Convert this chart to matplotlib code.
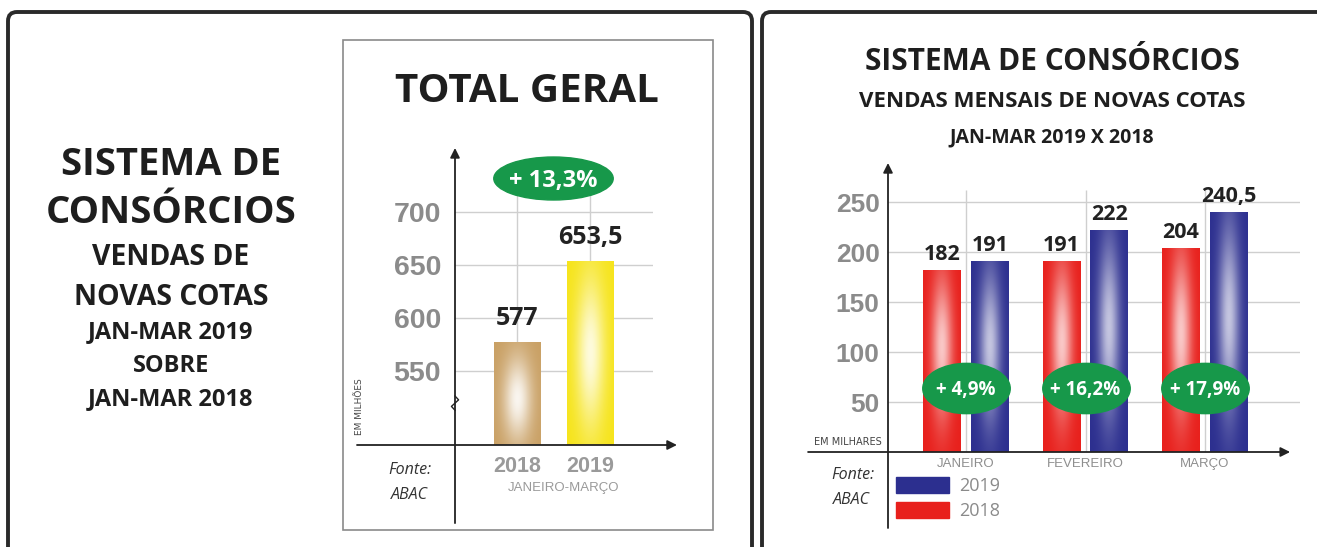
import numpy as np
import matplotlib.pyplot as plt
from matplotlib.patches import FancyBboxPatch, Rectangle, Patch
from matplotlib.path import Path
from matplotlib.colors import to_rgb

# dados - total geral (jan-mar)
anos_total = ['2018', '2019']
vendas_total = [577, 653.5]
variacao_total = '+ 13,3%'

# dados - vendas mensais
meses = ['JANEIRO', 'FEVEREIRO', 'MARÇO']
vendas_2018 = [182, 191, 204]
vendas_2019 = [191, 222, 240.5]
variacoes = ['+ 4,9%', '+ 16,2%', '+ 17,9%']

yticks_total = [550, 600, 650, 700]
yticks_mensal = [50, 100, 150, 200, 250]

plt.rcParams['font.family'] = ['Open Sans', 'DejaVu Sans']

W, H = 1317, 547
fig = plt.figure(figsize=(W / 100, H / 100), dpi=100)

verde = '#17984a'
cinza_tick = '#8b8b8b'
cinza_grade = '#cfcfcf'
texto_escuro = '#1e1e1e'


def fmt(v):
    return f"{v:g}".replace('.', ',')


def eixos_px(x0, y0, x1, y1):
    ax = fig.add_axes([x0 / W, 1 - y1 / H, (x1 - x0) / W, (y1 - y0) / H])
    ax.patch.set_alpha(0)
    for s in ax.spines.values():
        s.set_visible(False)
    return ax


def preencher_gradiente(ax, barras, cor, piso, yc=0.5, forca=0.8, sx=0.6, sy=0.4):
    base = np.array(to_rgb(cor))
    xs = np.linspace(-1, 1, 60)
    ys = np.linspace(0, 1, 150)
    X, Y = np.meshgrid(xs, ys)
    brilho = forca * np.exp(-(X / sx) ** 2) * np.exp(-((Y - yc) / sy) ** 2)
    img = base * (1 - brilho[..., None]) + brilho[..., None]
    for b in barras:
        x0 = b.get_x()
        w = b.get_width()
        topo = b.get_y() + b.get_height()
        im = ax.imshow(img, extent=[x0, x0 + w, piso, topo], origin='lower',
                       aspect='auto', zorder=2, interpolation='bilinear')
        im.set_clip_path(b)
        b.set_facecolor('none')
        b.set_edgecolor('none')


circ = Path.unit_circle()


def marcador_elipse(razao):
    return Path(circ.vertices * [1, razao], circ.codes)


def eixo_seta(ax, xy, xytext):
    ax.annotate('', xy=xy, xytext=xytext, xycoords='axes fraction',
                textcoords='axes fraction', annotation_clip=False,
                arrowprops=dict(arrowstyle='-|>', color='#222222', lw=1.3,
                                mutation_scale=14, shrinkA=0, shrinkB=0))


# ---------- fundo / molduras ----------
fundo = fig.add_axes([0, 0, 1, 1])
fundo.set_xlim(0, W)
fundo.set_ylim(H, 0)
fundo.axis('off')

fundo.add_patch(FancyBboxPatch((8, 12), 744, 580, boxstyle='round,pad=0,rounding_size=9',
                               lw=2.8, ec='#2a2a2a', fc='white'))
fundo.add_patch(FancyBboxPatch((762, 12), 620, 580, boxstyle='round,pad=0,rounding_size=9',
                               lw=2.8, ec='#2a2a2a', fc='white'))
fundo.add_patch(Rectangle((343, 40), 370, 490, lw=1.2, ec='#8a8a8a', fc='none'))

# bloco de texto à esquerda
linhas_esq = [("SISTEMA DE", 175, 27.5), ("CONSÓRCIOS", 223, 27.5),
              ("VENDAS DE", 265, 20.5), ("NOVAS COTAS", 305, 20.5),
              ("JAN-MAR 2019", 338, 17), ("SOBRE", 372, 17),
              ("JAN-MAR 2018", 405, 17)]
for txt, yb, tam in linhas_esq:
    fundo.text(171, yb, txt, ha='center', va='baseline', fontsize=tam,
               fontweight='bold', color=texto_escuro)

fundo.text(527, 102, 'TOTAL GERAL', ha='center', va='baseline', fontsize=29,
           fontweight='bold', color=texto_escuro)

fundo.text(1052, 70, 'SISTEMA DE CONSÓRCIOS', ha='center', va='baseline',
           fontsize=21.5, fontweight='bold', color=texto_escuro)
fundo.text(1052, 107, 'VENDAS MENSAIS DE NOVAS COTAS', ha='center', va='baseline',
           fontsize=16, fontweight='bold', color=texto_escuro)
fundo.text(1052, 142, 'JAN-MAR 2019 X 2018', ha='center', va='baseline',
           fontsize=14, fontweight='bold', color=texto_escuro)

# ---------- gráfico total geral ----------
ax1 = eixos_px(455, 148, 653, 445)
piso = 480
x1 = np.arange(len(anos_total))
barras1 = ax1.bar(x1, vendas_total, width=0.64, zorder=2)
preencher_gradiente(ax1, [barras1[0]], '#c9a064', piso, yc=0.45, forca=0.9)
preencher_gradiente(ax1, [barras1[1]], '#f6e41a', piso, yc=0.5, forca=0.85)
ax1.vlines(x1, piso, 725, color=cinza_grade, lw=1, zorder=1)
ax1.set_xlim(-0.849, 1.863)
ax1.set_ylim(piso, 760)
ax1.set_yticks(yticks_total)
ax1.yaxis.grid(True, color=cinza_grade, lw=1)
ax1.set_axisbelow(True)
ax1.tick_params(axis='y', length=0, pad=10, labelsize=20.5, labelcolor=cinza_tick)
ax1.set_xticks(x1, anos_total)
ax1.tick_params(axis='x', length=0, pad=8, labelsize=15.5, labelcolor='#9a9a9a')
for lbl in ax1.get_yticklabels() + ax1.get_xticklabels():
    lbl.set_fontweight('bold')
    lbl.set_family('Liberation Sans')
ax1.set_xlabel('JANEIRO-MARÇO', fontsize=9.5, color='#9a9a9a', family='Liberation Sans', labelpad=6)
ax1.xaxis.set_label_coords(0.55, -0.125)

for xi, v in zip(x1, vendas_total):
    ax1.annotate(fmt(v), (xi, v), xytext=(0, 12), textcoords='offset points',
                 ha='center', va='baseline', fontsize=18, fontweight='bold', color='#222222')

ax1.plot([0.5], [732], marker=marcador_elipse(0.36), markersize=86, color=verde,
         ls='none', zorder=5, clip_on=False)
ax1.text(0.5, 732, variacao_total, ha='center', va='center_baseline', fontsize=17,
         fontweight='bold', color='white', zorder=6)

eixo_seta(ax1, (1.121, 0), (-0.495, 0))
eixo_seta(ax1, (0, 1), (0, -0.263))
# quebra do eixo
ax1.plot([0, 0.018, -0.018, 0], [0.165, 0.152, 0.13, 0.117], transform=ax1.transAxes,
         color='#222222', lw=1.0, clip_on=False, zorder=4)
ax1.text(-0.48, 0.13, 'EM MILHÕES', transform=ax1.transAxes, rotation=90, ha='center',
         va='center', fontsize=6.5, color='#444444', family='Liberation Sans Narrow')
ax1.text(-0.23, -0.085, 'Fonte:', transform=ax1.transAxes, ha='center', va='center',
         fontsize=11.5, style='italic', color='#333333')
ax1.text(-0.23, -0.17, 'ABAC', transform=ax1.transAxes, ha='center', va='center',
         fontsize=11.5, style='italic', color='#333333')

# ---------- gráfico mensal ----------
ax2 = eixos_px(888, 163, 1300, 452)
x2 = np.arange(len(meses))
larg = 0.318
b18 = ax2.bar(x2 - 0.2, vendas_2018, width=larg, zorder=2)
b19 = ax2.bar(x2 + 0.2, vendas_2019, width=larg, zorder=2)
preencher_gradiente(ax2, b18, '#e8201c', 0, yc=0.58, forca=0.75, sx=0.55, sy=0.38)
preencher_gradiente(ax2, b19, '#2c2f8f', 0, yc=0.56, forca=0.72, sx=0.55, sy=0.38)
ax2.vlines(x2, 0, 262, color=cinza_grade, lw=1, zorder=1)
ax2.set_xlim(-0.653, 2.795)
ax2.set_ylim(0, 289)
ax2.set_yticks(yticks_mensal)
ax2.yaxis.grid(True, color=cinza_grade, lw=1)
ax2.set_axisbelow(True)
ax2.tick_params(axis='y', length=0, pad=6, labelsize=19, labelcolor=cinza_tick)
for lbl in ax2.get_yticklabels():
    lbl.set_fontweight('bold')
    lbl.set_family('Liberation Sans')
ax2.set_xticks(x2, meses)
ax2.tick_params(axis='x', length=0, pad=4, labelsize=9.5, labelcolor='#8e8e8e')
for lbl in ax2.get_xticklabels():
    lbl.set_family('Liberation Sans')

for barras, vals in ((b18, vendas_2018), (b19, vendas_2019)):
    for b, v in zip(barras, vals):
        ax2.annotate(fmt(v), (b.get_x() + b.get_width() / 2, v), xytext=(0, 7),
                     textcoords='offset points', ha='center', va='baseline',
                     fontsize=15.5, fontweight='bold', color='#222222')

for xi, txt in zip(x2, variacoes):
    ax2.plot([xi], [64], marker=marcador_elipse(0.575), markersize=63, color=verde,
             ls='none', zorder=5)
    ax2.text(xi, 64, txt, ha='center', va='center_baseline', fontsize=13.5,
             fontweight='bold', color='white', zorder=6)

eixo_seta(ax2, (0.976, 0), (-0.194, 0))
eixo_seta(ax2, (0, 1), (0, -0.263))
ax2.text(-0.015, 0.035, 'EM MILHARES', transform=ax2.transAxes, ha='right', va='center',
         fontsize=7, color='#444444', family='Liberation Sans Narrow')
ax2.text(-0.085, -0.08, 'Fonte:', transform=ax2.transAxes, ha='center', va='center',
         fontsize=11.5, style='italic', color='#333333')
ax2.text(-0.088, -0.166, 'ABAC', transform=ax2.transAxes, ha='center', va='center',
         fontsize=11.5, style='italic', color='#333333')

handles = [Patch(color='#2c2f8f'), Patch(color='#e8201c')]
ax2.legend(handles, ['2019', '2018'], loc='upper left', bbox_to_anchor=(0.02, -0.085),
           frameon=False, fontsize=13, labelcolor='#8a8a8a', handlelength=2.9,
           handleheight=1.0, labelspacing=0.4, handletextpad=0.6, borderpad=0,
           borderaxespad=0)

fig.savefig('out.png', dpi=100)
